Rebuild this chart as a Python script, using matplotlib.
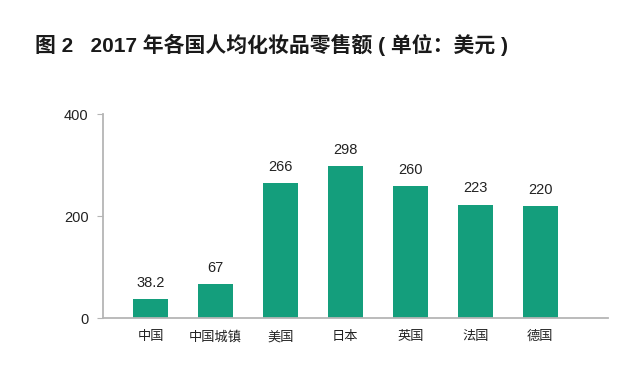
import matplotlib.pyplot as plt

plt.rcParams['font.family'] = ['Liberation Sans', 'Noto Sans CJK SC', 'DejaVu Sans']

countries = ['中国', '中国城镇', '美国', '日本', '英国', '法国', '德国']
values = [38.2, 67, 266, 298, 260, 223, 220]
labels = ['38.2', '67', '266', '298', '260', '223', '220']
yticks = [0, 200, 400]

fig = plt.figure(figsize=(6.41, 3.75), dpi=100)
ax = fig.add_axes([0.160, 0.151, 0.789, 0.544])

x = range(len(countries))
ax.bar(x, values, width=0.54, color='#149E7C', zorder=2)
for i, v in enumerate(values):
    ax.text(i, v + 18, labels[i], ha='center', va='bottom', fontsize=10.5, color='#222222')

ax.set_xlim(-0.74, 7.05)
ax.set_ylim(0, 400)
ax.set_yticks(yticks)
ax.set_xticks(list(x))
ax.set_xticklabels(countries, fontsize=9.5)

for s in ['top', 'right']:
    ax.spines[s].set_visible(False)
for s in ['left', 'bottom']:
    ax.spines[s].set_color('#b5b5b5')
    ax.spines[s].set_linewidth(1.3)

ax.tick_params(axis='y', length=4, color='#b5b5b5', labelsize=10.5, pad=6, labelcolor='#222222')
ax.tick_params(axis='x', length=0, pad=9, labelcolor='#222222')

fig.text(0.054, 0.88, '图 2   2017 年各国人均化妆品零售额 ( 单位：美元 )',
         fontsize=15, fontweight='bold', color='#1a1a1a', va='center', ha='left')

fig.savefig('out.png', dpi=100)
